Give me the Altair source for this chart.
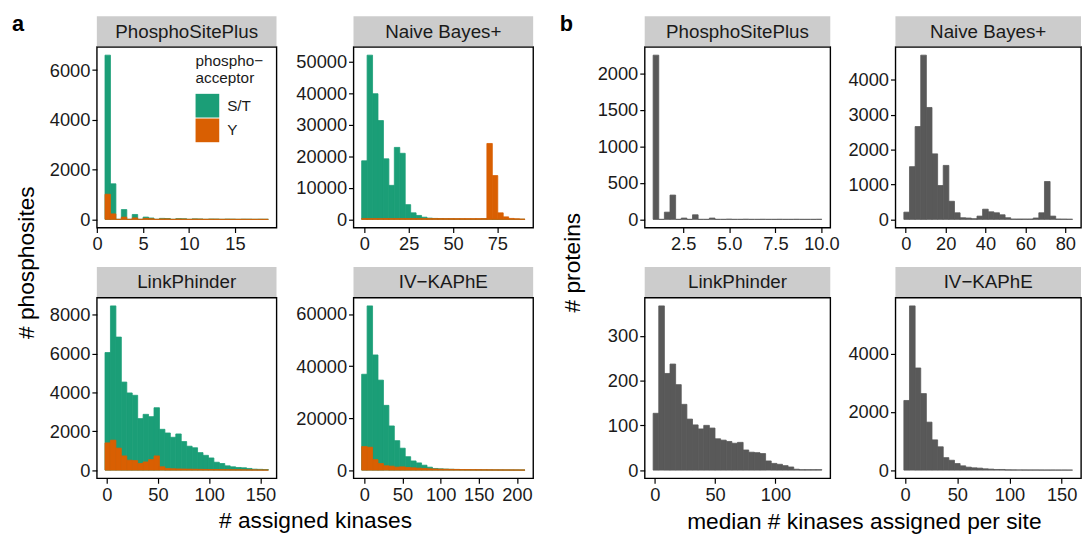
import altair as alt
import pandas as pd

FONT = "Liberation Sans"
GREEN, ORANGE, GREY = "#1B9E77", "#D95F02", "#595959"
STRIP_FILL = "#CCCCCC"
TEXT = "#1A1A1A"

PANEL_TITLES = ["PhosphoSitePlus", "Naive Bayes+", "LinkPhinder", "IV\u2212KAPhE"]
ACCEPTORS = ["S/T", "Y"]
NBINS = 30

# ---- panel a: # phosphosites by # assigned kinases (bin start, bin width, counts) ----
A_PSP_BIN = (0.85, 0.593)
A_PSP_ST = [6600, 1430, 0, 394, 0, 197, 0, 92, 55, 0, 40, 35, 0, 30, 25, 0, 20, 15, 0, 12,
            10, 0, 8, 6, 0, 5, 4, 0, 3, 2]
A_PSP_Y = [1010, 220, 0, 90, 0, 60, 0, 40, 25, 0, 20, 18, 0, 15, 12, 0, 10, 8, 0, 6,
           5, 0, 4, 3, 0, 3, 2, 0, 2, 1]

A_NB_BIN = (-1.53, 3.07)
A_NB_ST = [18580, 52080, 39850, 31340, 19200, 10790, 22830, 20960, 4670, 2080, 1250, 700,
           400, 300, 250, 200, 180, 150, 120, 100, 90, 80, 200, 300, 100, 50, 30, 20, 10, 5]
A_NB_Y = [250, 250, 250, 250, 250, 250, 250, 250, 250, 250, 250, 250, 250, 250, 250, 250,
          250, 250, 250, 250, 250, 250, 250, 24070, 13900, 2075, 800, 300, 200, 100]

A_LP_BIN = (-1.66, 5.31)
A_LP_ST = [6050, 8450, 6845, 4530, 3970, 3850, 2650, 2870, 2750, 3210, 2100, 1910, 1690,
           1860, 1470, 1230, 1150, 900, 760, 625, 405, 340, 220, 170, 135, 120, 85, 50, 40, 30]
A_LP_Y = [1400, 1540, 1130, 730, 510, 490, 340, 420, 540, 730, 170, 85, 70, 60, 55, 50, 45,
          40, 35, 30, 28, 25, 22, 20, 18, 15, 12, 10, 8, 6]

A_IV_BIN = (-3.57, 7.14)
A_IV_ST = [36860, 63150, 44280, 34600, 24900, 16980, 11320, 8430, 5160, 3520, 2770, 1890,
           1130, 630, 500, 400, 320, 260, 220, 180, 150, 130, 110, 90, 80, 70, 60, 50, 40, 30]
A_IV_Y = [9060, 8800, 4030, 2520, 1640, 1510, 1130, 1260, 1000, 880, 750, 630, 500, 420, 360,
          320, 280, 250, 220, 200, 180, 160, 140, 120, 100, 90, 80, 70, 60, 50]

# ---- panel b: # proteins by median # kinases assigned per site ----
B_PSP_BIN = (0.87, 0.305)
B_PSP = [2250, 0, 99, 333, 0, 18, 0, 63, 0, 0, 18, 0, 0, 3, 0, 0, 2, 0, 0, 1, 0, 0, 1, 0, 0,
         1, 0, 0, 0, 1]
B_NB_BIN = (-0.95, 2.82)
B_NB = [207, 1510, 2660, 4705, 3206, 1877, 970, 1546, 519, 189, 47, 38, 20, 94, 292, 217,
        189, 132, 47, 10, 10, 10, 10, 40, 189, 1085, 94, 10, 8, 5]
B_LP_BIN = (-1.37, 4.66)
B_LP = [127, 367, 216, 237, 191, 147, 114, 101, 92, 100, 94, 70, 67, 64, 60, 62, 45, 40, 39,
        37, 20.5, 15, 13, 10, 7, 2, 1, 1, 1, 1]
B_IV_BIN = (-1.27, 5.39)
B_IV = [2396, 5650, 3514, 2633, 1650, 1040, 802, 429, 339, 226, 147, 102, 79, 68, 45, 34, 22,
        22, 10, 8, 7, 6, 5, 5, 4, 3, 3, 2, 2, 1]

# tick values
A_XTICKS = [[0, 5, 10, 15], [0, 25, 50, 75], [0, 50, 100, 150], [0, 50, 100, 150, 200]]
A_YTICKS = [[0, 2000, 4000, 6000], [0, 10000, 20000, 30000, 40000, 50000],
            [0, 2000, 4000, 6000, 8000], [0, 20000, 40000, 60000]]
B_XTICKS = [[2.5, 5.0, 7.5, 10.0], [0, 20, 40, 60, 80], [0, 50, 100], [0, 50, 100, 150]]
B_YTICKS = [[0, 500, 1000, 1500, 2000], [0, 1000, 2000, 3000, 4000], [0, 100, 200, 300],
            [0, 2000, 4000]]

STRIP_H = 31


def hist_frame(binspec, series):
    edge0, width = binspec
    rows = []
    for acc, counts in series:
        for i, n in enumerate(counts):
            rows.append({"x0": edge0 + i * width, "x1": edge0 + (i + 1) * width,
                         "n": n, "acc": acc})
    return pd.DataFrame(rows)


def panel(title, binspec, series, xticks, yticks, W, H, xfmt="d", xtitle=None, ytitle=None,
          legend=None, tag=None):
    df = hist_frame(binspec, series)
    lo = binspec[0]
    hi = binspec[0] + NBINS * binspec[1]
    xpad = 0.05 * (hi - lo)
    ymax = float(df["n"].max())
    xscale = alt.Scale(domain=[lo - xpad, hi + xpad], nice=False, zero=False)
    yscale = alt.Scale(domain=[-0.05 * ymax, 1.05 * ymax], nice=False, zero=False)

    xkw = dict(values=xticks, format=xfmt, labelOverlap=False, labelFlush=False)
    if xtitle:
        xkw.update(title=xtitle[0], titleX=xtitle[1], titleY=xtitle[2],
                   titleAlign="center", titleBaseline="alphabetic")
    else:
        xkw.update(title=None)
    ykw = dict(values=yticks, format="d", labelOverlap=False)
    if ytitle:
        ykw.update(title=ytitle[0], titleX=ytitle[1], titleY=ytitle[2], titleAngle=270,
                   titleAlign="center", titleBaseline="middle")
    else:
        ykw.update(title=None)

    enc = dict(
        x=alt.X("x0:Q", scale=xscale, axis=alt.Axis(**xkw)),
        x2="x1:Q",
        y=alt.Y("n:Q", scale=yscale, axis=alt.Axis(**ykw)),
        y2=alt.datum(0),
    )
    if len(series) > 1:
        cscale = alt.Scale(domain=ACCEPTORS, range=[GREEN, ORANGE])
        if legend is not None:
            enc["color"] = alt.Color("acc:N", scale=cscale, legend=legend)
        else:
            enc["color"] = alt.Color("acc:N", scale=cscale, legend=None)
        enc["stroke"] = alt.Stroke("acc:N", scale=cscale, legend=None)
        bars = alt.Chart(df).mark_rect(strokeWidth=0.8).encode(**enc)
    else:
        bars = alt.Chart(df).mark_rect(color=GREY, stroke=GREY, strokeWidth=0.8).encode(**enc)

    sdf = pd.DataFrame({"label": [title]})
    strip = alt.Chart(sdf).mark_rect(color=STRIP_FILL).encode(
        x=alt.value(0), x2=alt.value(W), y=alt.value(-STRIP_H), y2=alt.value(-0.8))
    stext = alt.Chart(sdf).mark_text(font=FONT, fontSize=19, color=TEXT,
                                     baseline="middle", align="center").encode(
        x=alt.value(W / 2), y=alt.value(-STRIP_H / 2), text="label:N")
    layers = [bars, strip, stext]
    if tag:
        tdf = pd.DataFrame({"tag": [tag]})
        layers.append(alt.Chart(tdf).mark_text(font=FONT, fontSize=22, fontWeight="bold",
                                               color="black", align="left",
                                               baseline="alphabetic").encode(
            x=alt.value(-86), y=alt.value(-16), text="tag:N"))
    return alt.layer(*layers).properties(width=W, height=H)


AW, BW, PH = 182, 188, 183

legend = alt.Legend(title=["phospho\u2212", "acceptor"], orient="none", legendX=100, legendY=7,
                    symbolType="square", symbolSize=576, symbolStrokeWidth=0,
                    titleFont=FONT, labelFont=FONT, titleFontSize=15.5, labelFontSize=15.5,
                    titleFontWeight="normal", titleColor=TEXT, labelColor=TEXT,
                    rowPadding=1, labelOffset=8, titlePadding=7, padding=0,
                    titleLineHeight=18)

a_series = [
    ([("S/T", A_PSP_ST), ("Y", A_PSP_Y)], A_PSP_BIN),
    ([("S/T", A_NB_ST), ("Y", A_NB_Y)], A_NB_BIN),
    ([("S/T", A_LP_ST), ("Y", A_LP_Y)], A_LP_BIN),
    ([("S/T", A_IV_ST), ("Y", A_IV_Y)], A_IV_BIN),
]
a_panels = []
for i, (ser, bs) in enumerate(a_series):
    a_panels.append(panel(
        PANEL_TITLES[i], bs, ser, A_XTICKS[i], A_YTICKS[i], AW, PH,
        xtitle=("# assigned kinases", 221, 50) if i == 2 else None,
        ytitle=("# phosphosites", -71, 218) if i == 0 else None,
        legend=legend if i == 0 else None,
        tag="a" if i == 0 else None))

b_series = [(B_PSP, B_PSP_BIN), (B_NB, B_NB_BIN), (B_LP, B_LP_BIN), (B_IV, B_IV_BIN)]
b_panels = []
for i, (vals, bs) in enumerate(b_series):
    b_panels.append(panel(
        PANEL_TITLES[i], bs, [("all", vals)], B_XTICKS[i], B_YTICKS[i], BW, PH,
        xfmt=".1f" if i == 0 else "d",
        xtitle=("median # kinases assigned per site", 222, 51) if i == 2 else None,
        ytitle=("# proteins", -73, 218) if i == 0 else None,
        tag="b" if i == 0 else None))

block_a = alt.concat(*a_panels, columns=2, spacing={"row": 71, "column": 78},
                     bounds="flush").resolve_scale(color="independent", stroke="independent")
block_b = alt.concat(*b_panels, columns=2, spacing={"row": 71, "column": 66},
                     bounds="flush")

chart = alt.hconcat(block_a, block_b, spacing=25).resolve_scale(
    color="independent", stroke="independent"
).properties(
    padding={"left": 3, "top": 1, "right": 0, "bottom": 0}
).configure_view(
    stroke="black", strokeWidth=1.4
).configure_axis(
    domain=False, grid=False, ticks=True, tickColor="black", tickSize=5, tickWidth=1.2,
    labelFont=FONT, labelFontSize=18.5, labelColor=TEXT, labelPadding=2,
    titleFont=FONT, titleFontSize=23, titleFontWeight="normal", titleColor="black"
)

chart.save("out.html", embed_options={"renderer": "svg", "actions": False})
